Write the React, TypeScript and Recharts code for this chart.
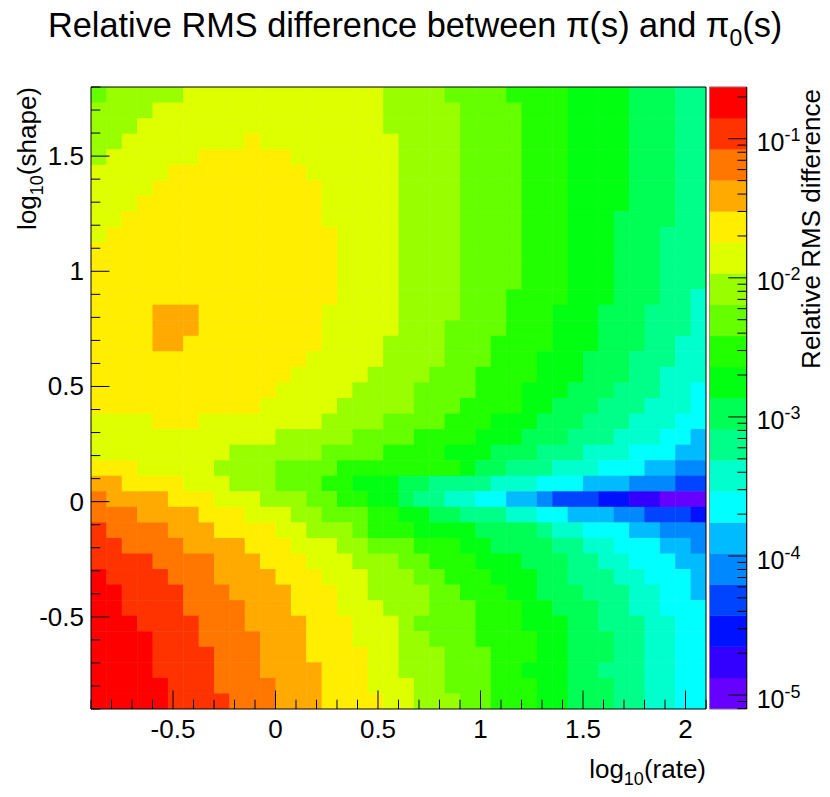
import React from 'react';
import { ScatterChart, Scatter, XAxis, YAxis, ReferenceArea } from 'recharts';

const FONT = '"Liberation Sans", Arial, Helvetica, sans-serif';
const W = 830;
const H = 797;

// ---- axes ----
const rateRange: [number, number] = [-0.9, 2.1];
const shapeRange: [number, number] = [-0.9, 1.8];
const rateBins = 40;
const shapeBins = 40;
const rateTicks = [-0.9, -0.8, -0.7, -0.6, -0.5, -0.4, -0.3, -0.2, -0.1, 0, 0.1, 0.2, 0.3, 0.4, 0.5, 0.6, 0.7, 0.8, 0.9, 1, 1.1, 1.2, 1.3, 1.4, 1.5, 1.6, 1.7, 1.8, 1.9, 2, 2.1];
const shapeTicks = [-0.9, -0.8, -0.7, -0.6, -0.5, -0.4, -0.3, -0.2, -0.1, 0, 0.1, 0.2, 0.3, 0.4, 0.5, 0.6, 0.7, 0.8, 0.9, 1, 1.1, 1.2, 1.3, 1.4, 1.5, 1.6, 1.7, 1.8];
const rateLabels = ['-0.5', '0', '0.5', '1', '1.5', '2'];
const shapeLabels = ['-0.5', '0', '0.5', '1', '1.5'];

// ---- colour scale: log10(relative RMS difference) ----
const zLogRange: [number, number] = [-5.1, -0.628];
const zDecades = [-5, -4, -3, -2, -1];
const palette = [
  '#6600ff', '#3300ff', '#0011ff', '#0044ff', '#0088ff', '#00bbff', '#00ffff', '#00ffcc', '#00ff88', '#00ff55',
  '#00ff11', '#22ff00', '#66ff00', '#99ff00', '#ddff00', '#ffee00', '#ffaa00', '#ff7700', '#ff3300', '#ff0000',
];

// ---- read values: contour level per bin (0 = highest, j = 19 = lowest); top row = highest shape ----
const levelRows = [
  '76666655555555555556' + '666777788889999aaabb',
  '66665555555555555556' + '666677778889999aaabb',
  '66655555555555555556' + '666677778889999aaabb',
  '66555555554555555555' + '666677778889999aaabb',
  '65555554444445555555' + '666677778889999aaabb',
  '55555444444444555555' + '666677778889999aaabb',
  '55554444444444455555' + '666677778889999aaabb',
  '55544444444444455555' + '666677778889999aaabb',
  '55444444444444455555' + '66667777888999aaaabb',
  '54444444444444445555' + '66667777888999aaabbb',
  '44444444444444445555' + '66667777888999aaabbb',
  '44444444444444445555' + '66667777888999aaabbb',
  '44444444444444445555' + '66667777888999aaabbb',
  '44444444444444445555' + '66667778888999aaabbc',
  '44443334444444455555' + '6666777888999aaabbbc',
  '44443334444444455555' + '6667777888999aaabbbc',
  '44443344444444455556' + '6667778888999aaabbcc',
  '44444444444444555556' + '666777888999aaabbbcc',
  '44444444444445555566' + '667778888999aaabbccc',
  '44444444444455555666' + '67777888999aaabbbccd',
  '44444444444555556666' + '6777888899aaabbbcccd',
  '55554445555555566667' + '777888999aaabbbcccdd',
  '55555555555566666777' + '78888999aaabbbcccdde',
  '55555555566666677778' + '888999aaabbbcccdddee',
  '44455555666677778888' + '88889aabbbcccdddeeff',
  '33444455566677788999' + 'aabbbbcccdddeeefffgg',
  '23333444555666778899' + 'abbccddeefggghhiijjj',
  '22233334445556677788' + '99aabbbccddeeeffgggh',
  '12222333444455666788' + '89999aaaabccdddeefff',
  '11222233334445556677' + '788899aaaabbccdddeef',
  '11112222333444555666' + '77888999aaabbccdddee',
  '01111222333344455566' + '677888999aabbbccddde',
  '00111122233334445566' + '667788899aaabbbccdde',
  '00111122223334445556' + '6677788899aaabbccddd',
  '00011112223333444555' + '67777888999aabbbccdd',
  '00001112222333444555' + '66777888899aaabbccdd',
  '00001111222333444455' + '66677788899aaabbccdd',
  '00001111222333344455' + '66677788999aabbbccdd',
  '00000111222233344455' + '56677788899aaabbccdd',
  '00000111122233344445' + '56667788899aaabbccdd',
];

// ---- layout of the frame ----
const PLOT_L = 91;
const PLOT_R = 706;
const PLOT_T = 87;
const PLOT_B = 709;
const BAR_L = 709.5;
const BAR_R = 746.7;

const zStep = (zLogRange[1] - zLogRange[0]) / palette.length;
const rateStep = (rateRange[1] - rateRange[0]) / rateBins;
const shapeStep = (shapeRange[1] - shapeRange[0]) / shapeBins;

const cells = levelRows.flatMap((row, r) =>
  row.split('').map((ch, c) => {
    const level = parseInt(ch, 36);
    const band = palette.length - 1 - level;
    const logz = zLogRange[0] + (band + 0.5) * zStep;
    return {
      rate: rateRange[0] + (c + 0.5) * rateStep,
      shape: shapeRange[1] - (r + 0.5) * shapeStep,
      diff: Math.pow(10, logz),
    };
  })
);

const colorOf = (v: number) => {
  const b = Math.floor((Math.log10(v) - zLogRange[0]) / zStep);
  return palette[Math.max(0, Math.min(palette.length - 1, b))];
};

const bands = palette.map((color, i) => ({
  lo: zLogRange[0] + i * zStep,
  hi: zLogRange[0] + (i + 1) * zStep,
  color,
}));

const zTicks: number[] = [];
for (let k = -6; k <= -1; k++) {
  for (let m = 1; m <= 9; m++) {
    const v = k + Math.log10(m);
    if (v >= zLogRange[0] - 1e-9 && v <= zLogRange[1] + 1e-9) zTicks.push(v);
  }
}

const CELL_W = (PLOT_R - PLOT_L) / rateBins;
const CELL_H = (PLOT_B - PLOT_T) / shapeBins;

const HeatCell = (props: any) => {
  const { cx, cy, payload } = props;
  if (cx == null || cy == null || !payload) return null;
  return (
    <rect
      x={cx - CELL_W / 2}
      y={cy - CELL_H / 2}
      width={CELL_W + 0.5}
      height={CELL_H + 0.5}
      fill={colorOf(payload.diff)}
      stroke="none"
    />
  );
};

const MAJOR = 18.5;
const MINOR = 9.3;

const fmt = (v: number) => (Math.abs(v) < 1e-9 ? '0' : String(Math.round(v * 10) / 10));

const RateTick = (props: any) => {
  const { x, y, payload } = props;
  const label = fmt(payload.value);
  const major = rateLabels.includes(label);
  return (
    <g>
      <line x1={x} x2={x} y1={y} y2={y - (major ? MAJOR : MINOR)} stroke="#000" strokeWidth={1} />
      {major && (
        <text x={x} y={y + 29} textAnchor="middle" fontSize={26} fontFamily={FONT} fill="#000">
          {label}
        </text>
      )}
    </g>
  );
};

const ShapeTick = (props: any) => {
  const { x, y, payload } = props;
  const label = fmt(payload.value);
  const major = shapeLabels.includes(label);
  return (
    <g>
      <line x1={x} x2={x + (major ? MAJOR : MINOR)} y1={y} y2={y} stroke="#000" strokeWidth={1} />
      {major && (
        <text x={x - 7} y={y + 9} textAnchor="end" fontSize={26} fontFamily={FONT} fill="#000">
          {label}
        </text>
      )}
    </g>
  );
};

const ZTick = (props: any) => {
  const { x, y, payload } = props;
  const v = payload.value as number;
  const k = Math.round(v);
  const major = Math.abs(v - k) < 1e-6 && zDecades.includes(k);
  return (
    <g>
      <line x1={x} x2={x - (major ? MAJOR : MINOR)} y1={y} y2={y} stroke="#000" strokeWidth={1} />
      {major && (
        <text x={x + 10} y={y + 12.5} fontSize={25} fontFamily={FONT} fill="#000">
          10
          <tspan dy={-10} fontSize={18}>
            {String(k)}
          </tspan>
        </text>
      )}
    </g>
  );
};

const abs: React.CSSProperties = { position: 'absolute', left: 0, top: 0 };

export default function App() {
  return (
    <div style={{ position: 'relative', width: W, height: H, background: '#fff', overflow: 'hidden' }}>
      <style>{'body{margin:0;background:#fff}'}</style>

      {/* heat map */}
      <div style={abs}>
        <ScatterChart
          width={W}
          height={H}
          margin={{ top: PLOT_T, right: W - PLOT_R, bottom: H - PLOT_B, left: PLOT_L }}
        >
          <XAxis dataKey="rate" type="number" domain={rateRange} allowDataOverflow hide />
          <YAxis dataKey="shape" type="number" domain={shapeRange} allowDataOverflow hide />
          <Scatter data={cells} shape={HeatCell} isAnimationActive={false} />
        </ScatterChart>
      </div>

      {/* frame and axes */}
      <div style={abs}>
        <ScatterChart
          width={W}
          height={H}
          margin={{ top: PLOT_T, right: W - PLOT_R, bottom: H - PLOT_B - 60, left: PLOT_L - 60 }}
        >
          <XAxis
            dataKey="rate"
            type="number"
            domain={rateRange}
            allowDataOverflow
            ticks={rateTicks}
            interval={0}
            tick={(p: any) => <RateTick {...p} />}
            tickSize={0}
            tickMargin={0}
            tickLine={false}
            axisLine={false}
            height={60}
          />
          <YAxis
            dataKey="shape"
            type="number"
            domain={shapeRange}
            allowDataOverflow
            ticks={shapeTicks}
            interval={0}
            tick={(p: any) => <ShapeTick {...p} />}
            tickSize={0}
            tickMargin={0}
            tickLine={false}
            axisLine={false}
            width={60}
          />
          <ReferenceArea
            x1={rateRange[0]}
            x2={rateRange[1]}
            y1={shapeRange[0]}
            y2={shapeRange[1]}
            fill="none"
            fillOpacity={0}
            stroke="#000"
            strokeWidth={1}
            ifOverflow="visible"
          />
        </ScatterChart>
      </div>

      {/* colour bar */}
      <div style={abs}>
        <ScatterChart
          width={W}
          height={H}
          margin={{ top: PLOT_T, right: W - BAR_R, bottom: H - PLOT_B, left: BAR_L }}
        >
          <XAxis dataKey="u" type="number" domain={[0, 1]} allowDataOverflow hide />
          <YAxis dataKey="z" type="number" domain={zLogRange} allowDataOverflow hide />
          {bands.map((b, i) => (
            <ReferenceArea
              key={i}
              x1={0}
              x2={1}
              y1={b.lo}
              y2={b.hi}
              fill={b.color}
              fillOpacity={1}
              stroke={b.color}
              strokeWidth={0.5}
              ifOverflow="visible"
            />
          ))}
        </ScatterChart>
      </div>
      <div style={abs}>
        <ScatterChart
          width={W}
          height={H}
          margin={{ top: PLOT_T, right: W - BAR_R - 60, bottom: H - PLOT_B, left: BAR_L }}
        >
          <XAxis dataKey="u" type="number" domain={[0, 1]} allowDataOverflow hide />
          <YAxis
            yAxisId="z"
            dataKey="z"
            type="number"
            orientation="right"
            domain={zLogRange}
            allowDataOverflow
            ticks={zTicks}
            interval={0}
            tick={(p: any) => <ZTick {...p} />}
            tickSize={0}
            tickMargin={0}
            tickLine={false}
            axisLine={{ stroke: '#000', strokeWidth: 1 }}
            width={60}
          />
          <ReferenceArea
            yAxisId="z"
            x1={0}
            x2={1}
            y1={zLogRange[0]}
            y2={zLogRange[1]}
            fill="none"
            fillOpacity={0}
            stroke="#888"
            strokeWidth={0.8}
            ifOverflow="visible"
          />
        </ScatterChart>
      </div>

      {/* titles */}
      <svg width={W} height={H} style={{ ...abs, pointerEvents: 'none' }} fontFamily={FONT}>
        <text x={48} y={37} fontSize={34.3} fill="#000">
          Relative RMS difference between π(s) and π
          <tspan dy={9} fontSize={23}>
            0
          </tspan>
          <tspan dy={-9}>(s)</tspan>
        </text>
        <text x={PLOT_R} y={778} fontSize={26} textAnchor="end" fill="#000">
          log
          <tspan dy={7} fontSize={18}>
            10
          </tspan>
          <tspan dy={-7}>(rate)</tspan>
        </text>
        <text transform={`translate(36,${PLOT_T}) rotate(-90)`} fontSize={26} textAnchor="end" fill="#000">
          log
          <tspan dy={7} fontSize={18}>
            10
          </tspan>
          <tspan dy={-7}>(shape)</tspan>
        </text>
        <text transform={`translate(820,${PLOT_T + 2}) rotate(-90)`} fontSize={26} textAnchor="end" fill="#000">
          Relative RMS difference
        </text>
      </svg>
    </div>
  );
}
